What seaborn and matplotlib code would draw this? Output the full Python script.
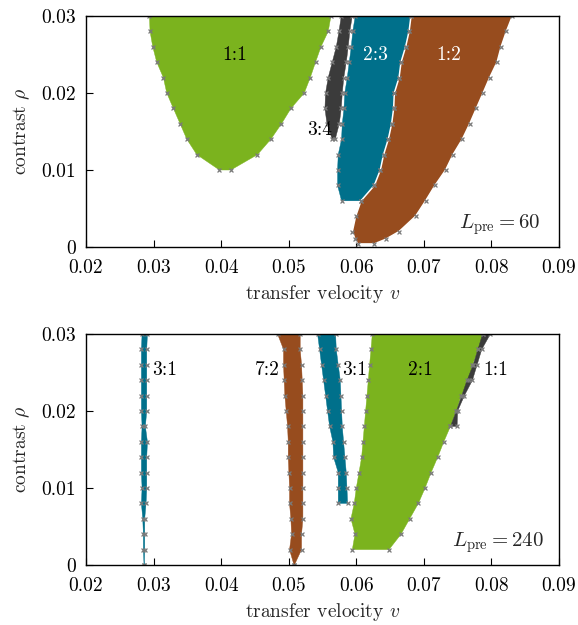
import numpy as np
import pandas as pd
import matplotlib
matplotlib.use("Agg")
import matplotlib.pyplot as plt
import seaborn as sns

# ---------------- data ----------------
# top panel, L_pre = 60
t11_rho = [0.030, 0.028, 0.026, 0.024, 0.022, 0.020, 0.018, 0.016, 0.014, 0.012, 0.010]
t11_left = [0.02938, 0.02948, 0.02988, 0.03047, 0.03145, 0.03195, 0.03293, 0.03393, 0.03492, 0.03640, 0.03975]
t11_right = [0.05625, 0.05585, 0.05477, 0.05397, 0.05319, 0.05230, 0.05033, 0.04893, 0.04736, 0.04538, 0.04144]

t34_rho = [0.030, 0.028, 0.026, 0.024, 0.022, 0.020, 0.018, 0.016, 0.014]
t34_left = [0.05778, 0.05744, 0.05704, 0.05644, 0.05585, 0.05545, 0.05536, 0.05566, 0.05644]
t34_right = [0.05941, 0.05904, 0.05881, 0.05852, 0.05815, 0.05793, 0.05778, 0.05748, 0.05689]

t23_rho = [0.030, 0.028, 0.026, 0.024, 0.022, 0.020, 0.018, 0.016, 0.014, 0.012, 0.010, 0.008, 0.006]
t23_left = [0.05985, 0.05948, 0.05926, 0.05896, 0.05867, 0.05830, 0.05818, 0.05793, 0.05782, 0.05733, 0.05723, 0.05723, 0.05782]
t23_right = [0.06810, 0.06781, 0.06730, 0.06662, 0.06633, 0.06563, 0.06553, 0.06523, 0.06474, 0.06404, 0.06356, 0.06267, 0.06070]

t12_left_rho = [0.030, 0.028, 0.026, 0.024, 0.022, 0.020, 0.018, 0.016, 0.014, 0.012, 0.010, 0.008, 0.006, 0.004, 0.002, 0.001, 0.0004]
t12_left = [0.06810, 0.06781, 0.06730, 0.06662, 0.06633, 0.06563, 0.06553, 0.06523, 0.06474, 0.06404, 0.06356, 0.06267, 0.06070, 0.05990, 0.05941, 0.05981, 0.06020]
t12_right_rho = [0.0004, 0.001, 0.002, 0.004, 0.006, 0.008, 0.010, 0.012, 0.014, 0.016, 0.018, 0.020, 0.022, 0.024, 0.026, 0.028, 0.030]
t12_right = [0.06267, 0.06434, 0.06633, 0.06879, 0.07027, 0.07166, 0.07323, 0.07433, 0.07570, 0.07679, 0.07778, 0.07877, 0.07975, 0.08084, 0.08144, 0.08222, 0.08311]

# bottom panel, L_pre = 240
b31a_rho = [0.030, 0.028, 0.026, 0.024, 0.022, 0.020, 0.018, 0.016, 0.014, 0.012, 0.010, 0.008, 0.006, 0.004, 0.002, 0.000]
b31a_left = [0.02830, 0.02820, 0.02820, 0.02820, 0.02820, 0.02820, 0.02830, 0.02820, 0.02820, 0.02820, 0.02830, 0.02820, 0.02840, 0.02849, 0.02849, 0.02859]
b31a_right = [0.02909, 0.02899, 0.02899, 0.02899, 0.02899, 0.02899, 0.02879, 0.02909, 0.02899, 0.02899, 0.02899, 0.02889, 0.02869, 0.02869, 0.02869, 0.02864]

b72_rho = [0.030, 0.028, 0.026, 0.024, 0.022, 0.020, 0.018, 0.016, 0.014, 0.012, 0.010, 0.008, 0.006, 0.004, 0.002, 0.000]
b72_left = [0.04835, 0.04923, 0.04923, 0.04933, 0.04943, 0.04963, 0.04983, 0.04993, 0.04993, 0.05003, 0.05012, 0.05012, 0.05032, 0.05042, 0.05012, 0.05078]
b72_right = [0.05170, 0.05170, 0.05190, 0.05200, 0.05210, 0.05210, 0.05210, 0.05210, 0.05210, 0.05210, 0.05210, 0.05210, 0.05210, 0.05190, 0.05190, 0.05084]

b31b_rho = [0.030, 0.028, 0.026, 0.024, 0.022, 0.020, 0.018, 0.016, 0.014, 0.012, 0.010, 0.008]
b31b_left = [0.05427, 0.05457, 0.05486, 0.05516, 0.05546, 0.05575, 0.05605, 0.05654, 0.05664, 0.05733, 0.05733, 0.05733]
b31b_right = [0.05694, 0.05704, 0.05733, 0.05763, 0.05773, 0.05783, 0.05793, 0.05812, 0.05832, 0.05852, 0.05862, 0.05872]

b21_rho = [0.030, 0.028, 0.026, 0.024, 0.022, 0.020, 0.018, 0.016, 0.014, 0.012, 0.010, 0.008, 0.006, 0.004, 0.002]
b21_left = [0.06237, 0.06218, 0.06197, 0.06178, 0.06158, 0.06138, 0.06119, 0.06099, 0.06079, 0.06040, 0.06000, 0.05970, 0.05921, 0.05981, 0.05941]
b21_right = [0.07877, 0.07807, 0.07719, 0.07670, 0.07551, 0.07481, 0.07393, 0.07295, 0.07205, 0.07107, 0.07018, 0.06919, 0.06790, 0.06662, 0.06484]

b11_rho = [0.030, 0.028, 0.026, 0.024, 0.022, 0.020, 0.018]
b11_left = [0.07870, 0.07800, 0.07729, 0.07640, 0.07560, 0.07481, 0.07393]
b11_right = [0.07985, 0.07857, 0.07788, 0.07719, 0.07600, 0.07500, 0.07492]

x_ticks = [0.02, 0.03, 0.04, 0.05, 0.06, 0.07, 0.08, 0.09]
x_tick_labels = ["0.02", "0.03", "0.04", "0.05", "0.06", "0.07", "0.08", "0.09"]
y_ticks = [0.0, 0.01, 0.02, 0.03]
y_tick_labels = ["0", "0.01", "0.02", "0.03"]

GREEN = "#7BB31E"
DARK = "#3B3B3B"
TEAL = "#00708B"
BROWN = "#974C1E"
MARK = "#7A7A7A"

# ---------------- style ----------------
sns.set_theme(style="ticks")
plt.rcParams["font.family"] = ["cmr10", "DejaVu Serif"]
plt.rcParams["mathtext.fontset"] = "cm"
plt.rcParams["axes.formatter.use_mathtext"] = True
plt.rcParams["axes.unicode_minus"] = False

fig = plt.figure(figsize=(5.78, 6.25), dpi=100)
ax1 = fig.add_axes([86 / 578, 1 - 247 / 625, 473 / 578, 231 / 625])
ax2 = fig.add_axes([86 / 578, 1 - 565 / 625, 473 / 578, 231 / 625])


def region(ax, lv, lr, rv, rr, color, reverse_right=True, edge=False):
    if reverse_right:
        xs = list(lv) + list(rv)[::-1]
        ys = list(lr) + list(rr)[::-1]
    else:
        xs = list(lv) + list(rv)
        ys = list(lr) + list(rr)
    if edge:
        ax.fill(xs, ys, facecolor=color, edgecolor="white", linewidth=1.1, zorder=2)
    else:
        ax.fill(xs, ys, facecolor=color, edgecolor=color, linewidth=0.3, zorder=2)
    pts = pd.DataFrame({"v": list(lv) + list(rv), "rho": list(lr) + list(rr)})
    sns.scatterplot(data=pts, x="v", y="rho", ax=ax, marker="x", s=8,
                    color=MARK, linewidth=0.9, zorder=4, legend=False)


# top panel
region(ax1, t11_left, t11_rho, t11_right, t11_rho, GREEN)
region(ax1, t34_left, t34_rho, t34_right, t34_rho, DARK)
region(ax1, t23_left, t23_rho, t23_right, t23_rho, TEAL)
region(ax1, t12_left, t12_left_rho, t12_right, t12_right_rho, BROWN, reverse_right=False, edge=True)

# bottom panel
region(ax2, b31a_left, b31a_rho, b31a_right, b31a_rho, TEAL)
region(ax2, b72_left, b72_rho, b72_right, b72_rho, BROWN)
region(ax2, b31b_left, b31b_rho, b31b_right, b31b_rho, TEAL)
region(ax2, b21_left, b21_rho, b21_right, b21_rho, GREEN)
region(ax2, b11_left, b11_rho, b11_right, b11_rho, DARK)

FS = 14
for ax in (ax1, ax2):
    ax.set_xlim(0.02, 0.09)
    ax.set_ylim(0.0, 0.03)
    ax.set_xticks(x_ticks)
    ax.set_xticklabels(x_tick_labels, fontsize=FS)
    ax.set_yticks(y_ticks)
    ax.set_yticklabels(y_tick_labels, fontsize=FS)
    ax.tick_params(direction="in", length=5, width=0.8, top=False, right=False,
                   colors="black")
    ax.tick_params(axis="x", pad=9)
    ax.tick_params(axis="y", pad=7)
    for s in ax.spines.values():
        s.set_linewidth(1.0)
        s.set_color("black")
        s.set_visible(True)
        s.set_zorder(5)
    ax.set_xlabel(r"transfer velocity $v$", fontsize=FS, labelpad=4)
    ax.set_ylabel(r"contrast $\rho$", fontsize=FS, labelpad=7)

# labels top
ax1.text(0.04207, 0.0249, "1:1", fontsize=FS, color="black", ha="center", va="center", zorder=6)
ax1.text(0.05452, 0.0152, "3:4", fontsize=FS, color="black", ha="center", va="center", zorder=6)
ax1.text(0.06281, 0.0249, "2:3", fontsize=FS, color="white", ha="center", va="center", zorder=6)
ax1.text(0.07363, 0.0249, "1:2", fontsize=FS, color="white", ha="center", va="center", zorder=6)
ax1.text(0.0873, 0.0029, r"$L_{\mathrm{pre}} = 60$", fontsize=FS + 1, ha="right", va="center", zorder=6)

# labels bottom
ax2.text(0.03170, 0.0253, "3:1", fontsize=FS, color="black", ha="center", va="center", zorder=6)
ax2.text(0.04689, 0.0253, "7:2", fontsize=FS, color="black", ha="center", va="center", zorder=6)
ax2.text(0.05970, 0.0253, "3:1", fontsize=FS, color="black", ha="center", va="center", zorder=6)
ax2.text(0.06948, 0.0253, "2:1", fontsize=FS, color="black", ha="center", va="center", zorder=6)
ax2.text(0.08059, 0.0253, "1:1", fontsize=FS, color="black", ha="center", va="center", zorder=6)
ax2.text(0.0877, 0.0029, r"$L_{\mathrm{pre}} = 240$", fontsize=FS + 1, ha="right", va="center", zorder=6)

fig.savefig("out.png", dpi=100)
